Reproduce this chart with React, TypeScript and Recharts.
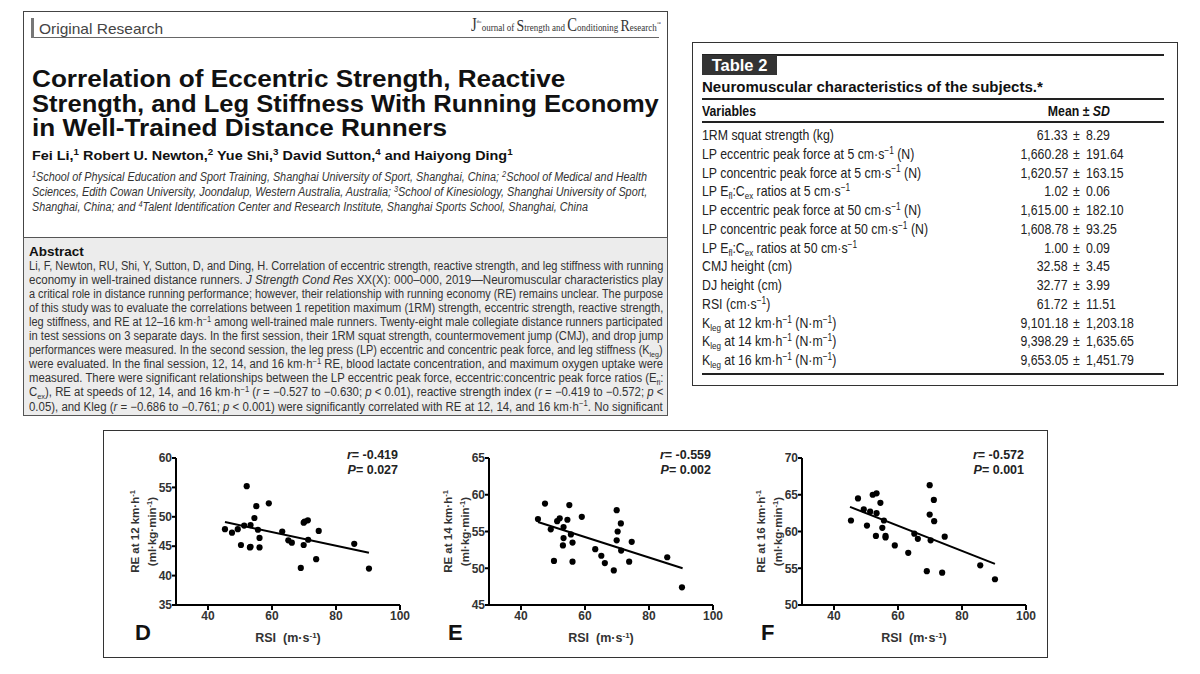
import React, { useLayoutEffect, useRef, useState } from "react";
import { ScatterChart, Scatter, XAxis, YAxis, ReferenceLine } from "recharts";

// RSI (m·s-1) of the 28 runners, shared by all three panels
const rsi = [
  45.3, 47.5, 49.3, 50.3, 51.3, 52.1, 53.1, 53.3, 53.3, 54.5, 55.1, 55.6, 56.1, 56.1,
  59.0, 63.2, 65.1, 66.2, 69.0, 69.9, 69.9, 70.2, 71.2, 71.3, 73.8, 74.6, 85.7, 90.3,
];
// RE (ml·kg·min-1) at 12, 14, 16 km·h-1
const re12 = [
  47.9, 47.3, 47.9, 45.2, 48.5, 55.2, 44.8, 48.6, 44.9, 49.8, 51.8, 47.8, 46.4, 44.8,
  52.3, 47.5, 46.0, 45.6, 41.3, 49.0, 45.2, 49.2, 49.4, 46.1, 42.8, 47.6, 45.4, 41.2,
];
const re14 = [
  56.7, 58.8, 55.3, 51.0, 56.4, 56.8, 53.1, 55.6, 54.1, 56.6, 58.6, 54.6, 53.5, 50.9,
  57.0, 52.6, 51.7, 50.7, 49.7, 57.9, 53.8, 55.0, 56.1, 52.4, 50.9, 53.6, 51.5, 47.4,
];
const re16 = [
  61.5, 64.5, 63.0, 60.8, 62.7, 65.0, 59.4, 65.2, 62.5, 63.9, 60.5, 61.5, 59.4, 59.2,
  58.1, 57.1, 59.7, 59.0, 54.6, 66.3, 62.3, 58.8, 64.3, 61.4, 54.4, 59.3, 55.4, 53.5,
];
// regression line end points as drawn
const fit12 = [{ x: 45.3, y: 49.1 }, { x: 90.3, y: 43.9 }];
const fit14 = [{ x: 45.3, y: 56.3 }, { x: 90.5, y: 50.0 }];
const fit16 = [{ x: 45.0, y: 63.35 }, { x: 90.3, y: 55.6 }];

const xTicks = [40, 60, 80, 100];
const yTicks12 = [35, 40, 45, 50, 55, 60];
const yTicks14 = [45, 50, 55, 60, 65];
const yTicks16 = [50, 55, 60, 65, 70];

// Table 2
const tableMeans = ["61.33", "1,660.28", "1,620.57", "1.02", "1,615.00", "1,608.78", "1.00", "32.58", "32.77", "61.72", "9,101.18", "9,398.29", "9,653.05"];
const tableSDs = ["8.29", "191.64", "163.15", "0.06", "182.10", "93.25", "0.09", "3.45", "3.99", "11.51", "1,203.18", "1,635.65", "1,451.79"];

const ARIAL = '"Liberation Sans", Arial, sans-serif';
const COND = 0.82;

const Sup = ({ children }: { children: React.ReactNode }) => (
  <span style={{ fontSize: "0.68em", position: "relative", top: "-0.5em", lineHeight: 0 }}>{children}</span>
);
const Sub = ({ children }: { children: React.ReactNode }) => (
  <span style={{ fontSize: "0.65em", position: "relative", top: "0.3em", lineHeight: 0 }}>{children}</span>
);

// squeezes or stretches one line of text to a given width
function Fit({ width, style, children }: { width: number; style: React.CSSProperties; children: React.ReactNode }) {
  const ref = useRef<HTMLSpanElement>(null);
  const [s, setS] = useState(1);
  useLayoutEffect(() => {
    if (ref.current) {
      const w = ref.current.offsetWidth;
      if (w) setS(width / w);
    }
  }, [width]);
  return (
    <div style={{ position: "absolute", whiteSpace: "nowrap", ...style }}>
      <span ref={ref} style={{ display: "inline-block", transform: `scaleX(${s})`, transformOrigin: "left" }}>
        {children}
      </span>
    </div>
  );
}

// fixed condensed text
const Cond = ({ style, origin, children }: { style: React.CSSProperties; origin?: string; children: React.ReactNode }) => (
  <div style={{ position: "absolute", whiteSpace: "nowrap", ...style }}>
    <span style={{ display: "inline-block", transform: `scaleX(${COND})`, transformOrigin: origin || "left" }}>{children}</span>
  </div>
);

const tableLabels: React.ReactNode[] = [
  <>1RM squat strength (kg)</>,
  <>LP eccentric peak force at 5 cm·s<Sup>−1</Sup> (N)</>,
  <>LP concentric peak force at 5 cm·s<Sup>−1</Sup> (N)</>,
  <>LP E<Sub>fl</Sub>:C<Sub>ex</Sub> ratios at 5 cm·s<Sup>−1</Sup></>,
  <>LP eccentric peak force at 50 cm·s<Sup>−1</Sup> (N)</>,
  <>LP concentric peak force at 50 cm·s<Sup>−1</Sup> (N)</>,
  <>LP E<Sub>fl</Sub>:C<Sub>ex</Sub> ratios at 50 cm·s<Sup>−1</Sup></>,
  <>CMJ height (cm)</>,
  <>DJ height (cm)</>,
  <>RSI (cm·s<Sup>−1</Sup>)</>,
  <>K<Sub>leg</Sub> at 12 km·h<Sup>−1</Sup> (N·m<Sup>−1</Sup>)</>,
  <>K<Sub>leg</Sub> at 14 km·h<Sup>−1</Sup> (N·m<Sup>−1</Sup>)</>,
  <>K<Sub>leg</Sub> at 16 km·h<Sup>−1</Sup> (N·m<Sup>−1</Sup>)</>,
];

const abstractLines: React.ReactNode[] = [
  <>Li, F, Newton, RU, Shi, Y, Sutton, D, and Ding, H. Correlation of eccentric strength, reactive strength, and leg stiffness with running</>,
  <>economy in well-trained distance runners. <i>J Strength Cond Res</i> XX(X): 000–000, 2019—Neuromuscular characteristics play</>,
  <>a critical role in distance running performance; however, their relationship with running economy (RE) remains unclear. The purpose</>,
  <>of this study was to evaluate the correlations between 1 repetition maximum (1RM) strength, eccentric strength, reactive strength,</>,
  <>leg stiffness, and RE at 12–16 km·h<Sup>−1</Sup> among well-trained male runners. Twenty-eight male collegiate distance runners participated</>,
  <>in test sessions on 3 separate days. In the first session, their 1RM squat strength, countermovement jump (CMJ), and drop jump</>,
  <>performances were measured. In the second session, the leg press (LP) eccentric and concentric peak force, and leg stiffness (K<Sub>leg</Sub>)</>,
  <>were evaluated. In the final session, 12, 14, and 16 km·h<Sup>−1</Sup> RE, blood lactate concentration, and maximum oxygen uptake were</>,
  <>measured. There were significant relationships between the LP eccentric peak force, eccentric:concentric peak force ratios (E<Sub>fl</Sub>:</>,
  <>C<Sub>ex</Sub>), RE at speeds of 12, 14, and 16 km·h<Sup>−1</Sup> (<i>r</i> = −0.527 to −0.630; <i>p</i> &lt; 0.01), reactive strength index (<i>r</i> = −0.419 to −0.572; <i>p</i> &lt;</>,
  <>0.05), and Kleg (<i>r</i> = −0.686 to −0.761; <i>p</i> &lt; 0.001) were significantly correlated with RE at 12, 14, and 16 km·h<Sup>−1</Sup>. No significant</>,
  <>association was found between LP concentric peak force, 1RM squat strength, CMJ, and RE at any speed (<i>p</i> &gt; 0.05). Superior RE</>,
];

const affLines: React.ReactNode[] = [
  <><Sup>1</Sup>School of Physical Education and Sport Training, Shanghai University of Sport, Shanghai, China; <Sup>2</Sup>School of Medical and Health</>,
  <>Sciences, Edith Cowan University, Joondalup, Western Australia, Australia; <Sup>3</Sup>School of Kinesiology, Shanghai University of Sport,</>,
  <>Shanghai, China; and <Sup>4</Sup>Talent Identification Center and Research Institute, Shanghai Sports School, Shanghai, China</>,
];
const affWidths = [615, 615, 556];

const titleLines = [
  "Correlation of Eccentric Strength, Reactive",
  "Strength, and Leg Stiffness With Running Economy",
  "in Well-Trained Distance Runners",
];
const titleWidths = [533, 627, 415];

const Dot = (props: any) => <circle cx={props.cx} cy={props.cy} r={3.1} fill="#000" />;

const tickStyle = { fontSize: 12, fontWeight: 700, fill: "#333", fontFamily: ARIAL };

const PLOT_TOP = 458;
const PLOT_W = 224;
const PLOT_H = 147;
const YW = 70;

function Panel(props: {
  left: number;
  letter: string;
  speed: string;
  values: number[];
  fit: { x: number; y: number }[];
  yTicks: number[];
  r: string;
  p: string;
}) {
  const { left, letter, speed, values, fit, yTicks, r, p } = props;
  const data = rsi.map((x, i) => ({ x, y: values[i] }));
  const yLabel = (lp: any) => {
    const vb = lp.viewBox;
    const ax = vb.x + vb.width;
    const cy = vb.y + vb.height / 2;
    const st = { fontSize: 11.5, fontWeight: 700, fill: "#333", fontFamily: ARIAL };
    return (
      <g>
        <text transform={`translate(${ax - 37},${cy}) rotate(-90)`} textAnchor="middle" {...st}>
          RE at {speed} km·h<tspan dy={-4} fontSize={7.5}>-1</tspan>
        </text>
        <text transform={`translate(${ax - 20},${cy}) rotate(-90)`} textAnchor="middle" {...st}>
          (ml·kg·min<tspan dy={-4} fontSize={7.5}>-1</tspan>
          <tspan dy={4}>)</tspan>
        </text>
      </g>
    );
  };
  const xLabel = (lp: any) => {
    const vb = lp.viewBox;
    return (
      <text x={vb.x + vb.width / 2} y={vb.y + 37} textAnchor="middle" fontSize={12.5} fontWeight={700} fill="#333" fontFamily={ARIAL}>
        RSI<tspan dx={7}>(m·s</tspan>
        <tspan dy={-4} fontSize={8}>-1</tspan>
        <tspan dy={4}>)</tspan>
      </text>
    );
  };
  return (
    <>
      <div style={{ position: "absolute", left: left - YW, top: PLOT_TOP - 10 }}>
        <ScatterChart width={YW + PLOT_W + 12} height={10 + PLOT_H + 45} margin={{ top: 10, right: 12, bottom: 0, left: 0 }}>
          <XAxis
            type="number"
            dataKey="x"
            domain={[30, 100]}
            ticks={xTicks}
            allowDataOverflow
            height={45}
            tickSize={5}
            tickMargin={1}
            axisLine={{ stroke: "#000", strokeWidth: 2 }}
            tickLine={{ stroke: "#000", strokeWidth: 2 }}
            tick={tickStyle}
            label={xLabel}
          />
          <YAxis
            type="number"
            dataKey="y"
            domain={[yTicks[0], yTicks[yTicks.length - 1]]}
            ticks={yTicks}
            allowDataOverflow
            width={YW}
            tickSize={4}
            tickMargin={0}
            axisLine={{ stroke: "#000", strokeWidth: 2 }}
            tickLine={{ stroke: "#000", strokeWidth: 2 }}
            tick={tickStyle}
            label={yLabel}
          />
          <ReferenceLine segment={fit} stroke="#000" strokeWidth={2} ifOverflow="visible" />
          <Scatter data={data} shape={Dot} isAnimationActive={false} />
        </ScatterChart>
      </div>
      <div
        style={{
          position: "absolute",
          right: 1200 - (left + PLOT_W - 2),
          top: 448,
          textAlign: "right",
          fontFamily: ARIAL,
          fontWeight: 700,
          fontSize: 12.5,
          lineHeight: "15px",
          color: "#222",
        }}
      >
        <div><i>r</i>= {r}</div>
        <div><i>P</i>= {p}</div>
      </div>
      <div
        style={{
          position: "absolute",
          left: left - 41,
          top: 621,
          fontFamily: ARIAL,
          fontWeight: 700,
          fontSize: 22,
          lineHeight: "24px",
          color: "#111",
        }}
      >
        {letter}
      </div>
    </>
  );
}

export default function App() {
  const abs = (s: React.CSSProperties): React.CSSProperties => ({ position: "absolute", ...s });
  const rowTop = (i: number) => 126 + i * 18.77;
  const cell: React.CSSProperties = { fontSize: 15, lineHeight: "18px", color: "#222" };
  return (
    <div style={abs({ left: 0, top: 0, width: 1200, height: 674, background: "#fff", overflow: "hidden", fontFamily: ARIAL, color: "#111" })}>
      {/* paper first page */}
      <div style={abs({ left: 23, top: 11, width: 645, height: 405, border: "1px solid #444", boxSizing: "border-box" })} />
      <div style={abs({ left: 31, top: 18, width: 3, height: 20, background: "#777" })} />
      <Fit width={124} style={{ left: 39, top: 21, fontSize: 15, lineHeight: "16px", color: "#444" }}>Original Research</Fit>
      <div style={abs({ left: 34, top: 37, width: 625, height: 1, background: "#666" })} />
      <Fit width={190} style={{ left: 471, top: 15, fontFamily: '"Liberation Serif", serif', fontSize: 11, lineHeight: "20px", color: "#333" }}>
        <span style={{ fontSize: 18 }}>J</span>
        <span style={{ fontSize: 5, position: "relative", top: -8 }}>the</span>ournal of{" "}
        <span style={{ fontSize: 17 }}>S</span>trength and <span style={{ fontSize: 18 }}>C</span>onditioning{" "}
        <span style={{ fontSize: 17 }}>R</span>esearch<span style={{ fontSize: 5, position: "relative", top: -6 }}>™</span>
      </Fit>
      {titleLines.map((t, i) => (
        <Fit key={i} width={titleWidths[i]} style={{ left: 32, top: 67 + i * 24.5, fontSize: 23.5, fontWeight: 700, lineHeight: "25px", color: "#111" }}>
          {t}
        </Fit>
      ))}
      <Fit width={481} style={{ left: 32, top: 148, fontSize: 13.5, fontWeight: 700, lineHeight: "16px" }}>
        Fei Li,<Sup>1</Sup> Robert U. Newton,<Sup>2</Sup> Yue Shi,<Sup>3</Sup> David Sutton,<Sup>4</Sup> and Haiyong Ding<Sup>1</Sup>
      </Fit>
      {affLines.map((ln, i) => (
        <Fit key={i} width={affWidths[i]} style={{ left: 32, top: 170 + i * 15, fontStyle: "italic", fontSize: 12, lineHeight: "15px", color: "#333" }}>
          {ln}
        </Fit>
      ))}
      {/* abstract box */}
      <div style={abs({ left: 23, top: 237, width: 645, height: 179, background: "#ececec", border: "1px solid #555", boxSizing: "border-box", overflow: "hidden" })}>
        <div style={abs({ left: 5, top: 6, fontSize: 13.5, fontWeight: 700, lineHeight: "16px", color: "#111" })}>Abstract</div>
        {abstractLines.map((ln, i) => (
          <Fit key={i} width={634} style={{ left: 5, top: 21 + i * 14.05, fontSize: 12, lineHeight: "14px", color: "#333" }}>
            {ln}
          </Fit>
        ))}
      </div>

      {/* Table 2 */}
      <div style={abs({ left: 692, top: 42, width: 486, height: 344, border: "1px solid #333", boxSizing: "border-box" })} />
      <div style={abs({ left: 702, top: 54, width: 462, height: 1.5, background: "#222" })} />
      <div style={abs({ left: 702, top: 55, width: 75, height: 20, background: "#333", color: "#fff", fontWeight: 700, fontSize: 16.5, lineHeight: "20px", textAlign: "center" })}>Table 2</div>
      <Fit width={341} style={{ left: 702, top: 79, fontSize: 14.5, fontWeight: 700, lineHeight: "16px", color: "#111" }}>Neuromuscular characteristics of the subjects.*</Fit>
      <div style={abs({ left: 702, top: 98, width: 462, height: 2, background: "#222" })} />
      <Cond style={{ left: 702, top: 102, fontSize: 15, fontWeight: 700, lineHeight: "18px" }}>Variables</Cond>
      <Cond origin="center" style={{ left: 1009, top: 102, width: 140, textAlign: "center", fontSize: 15, fontWeight: 700, lineHeight: "18px" }}>
        Mean ± <i>SD</i>
      </Cond>
      <div style={abs({ left: 702, top: 121, width: 462, height: 1.5, background: "#222" })} />
      {tableLabels.map((lab, i) => (
        <React.Fragment key={i}>
          <Cond style={{ left: 702, top: rowTop(i), ...cell }}>{lab}</Cond>
          <Cond origin="right" style={{ right: 1200 - 1068, top: rowTop(i), textAlign: "right", ...cell }}>{tableMeans[i]}</Cond>
          <Cond style={{ left: 1073, top: rowTop(i), ...cell }}>±</Cond>
          <Cond style={{ left: 1086, top: rowTop(i), ...cell }}>{tableSDs[i]}</Cond>
        </React.Fragment>
      ))}
      <div style={abs({ left: 702, top: 373, width: 462, height: 1.5, background: "#222" })} />

      {/* figure panels D, E, F */}
      <div style={abs({ left: 103, top: 430, width: 945, height: 228, border: "1.5px solid #333", boxSizing: "border-box" })} />
      <Panel left={176} letter="D" speed="12" values={re12} fit={fit12} yTicks={yTicks12} r="-0.419" p="0.027" />
      <Panel left={489} letter="E" speed="14" values={re14} fit={fit14} yTicks={yTicks14} r="-0.559" p="0.002" />
      <Panel left={802} letter="F" speed="16" values={re16} fit={fit16} yTicks={yTicks16} r="-0.572" p="0.001" />
    </div>
  );
}
